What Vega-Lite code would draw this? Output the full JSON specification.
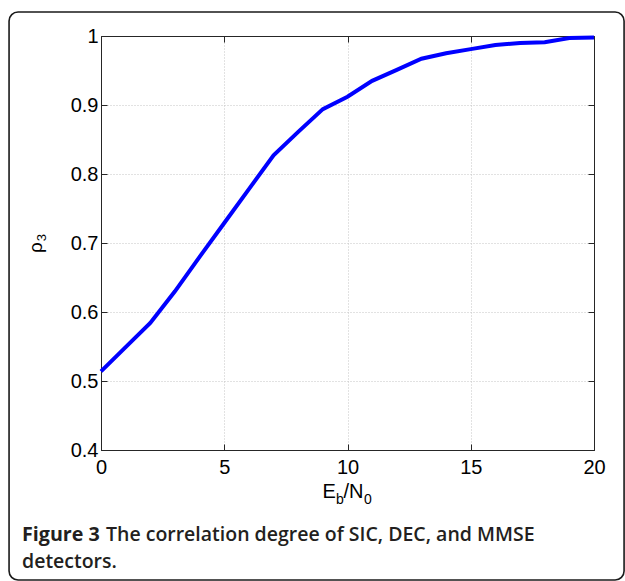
{
  "$schema": "https://vega.github.io/schema/vega-lite/v6.json",
  "width": 493,
  "height": 414,
  "autosize": {"type": "none"},
  "padding": {"left": 101, "top": 36, "right": 31, "bottom": 131},
  "background": "white",
  "config": {
    "view": {"stroke": "#262626", "strokeWidth": 1},
    "axis": {
      "labelFont": "Liberation Sans",
      "labelFontSize": 20,
      "labelColor": "#000000",
      "labelFlush": false,
      "labelOverlap": false,
      "domainColor": "#262626",
      "tickColor": "#262626",
      "tickSize": -6,
      "labelPadding": 9,
      "gridColor": "#c4c4c4",
      "gridDash": [1, 2],
      "gridWidth": 1,
      "titleFont": "Liberation Sans",
      "titleFontWeight": "normal",
      "titleColor": "#000000"
    }
  },
  "datasets": {
    "curve": [
      {"x": 0, "y": 0.514},
      {"x": 1, "y": 0.549},
      {"x": 2, "y": 0.584},
      {"x": 3, "y": 0.630},
      {"x": 4, "y": 0.680},
      {"x": 5, "y": 0.729},
      {"x": 6, "y": 0.778},
      {"x": 7, "y": 0.827},
      {"x": 8, "y": 0.861},
      {"x": 9, "y": 0.894},
      {"x": 10, "y": 0.912},
      {"x": 11, "y": 0.935},
      {"x": 12, "y": 0.951},
      {"x": 13, "y": 0.967},
      {"x": 14, "y": 0.975},
      {"x": 15, "y": 0.981},
      {"x": 16, "y": 0.987},
      {"x": 17, "y": 0.990},
      {"x": 18, "y": 0.991},
      {"x": 19, "y": 0.997},
      {"x": 20, "y": 0.998}
    ]
  },
  "layer": [
    {
      "data": {"name": "curve"},
      "mark": {"type": "line", "color": "#0000ff", "strokeWidth": 4, "clip": false},
      "encoding": {
        "x": {
          "field": "x", "type": "quantitative",
          "scale": {"domain": [0, 20], "nice": false, "zero": false},
          "axis": {"orient": "bottom", "values": [0, 5, 10, 15, 20], "title": null, "grid": true, "labelPadding": 13}
        },
        "y": {
          "field": "y", "type": "quantitative",
          "scale": {"domain": [0.4, 1], "nice": false, "zero": false},
          "axis": {
            "orient": "left",
            "values": [0.4, 0.5, 0.6, 0.7, 0.8, 0.9, 1],
            "labelExpr": "datum.value == 1 ? '1' : format(datum.value, '.1f')",
            "grid": true,
            "title": null
          }
        }
      }
    },
    {
      "data": {"name": "curve"},
      "mark": {"type": "line", "opacity": 0},
      "encoding": {
        "x": {
          "field": "x", "type": "quantitative",
          "scale": {"domain": [0, 20], "nice": false, "zero": false},
          "axis": {"orient": "top", "values": [0, 5, 10, 15, 20], "labels": false, "grid": false, "title": null}
        },
        "y": {
          "field": "y", "type": "quantitative",
          "scale": {"domain": [0.4, 1], "nice": false, "zero": false},
          "axis": {"orient": "right", "values": [0.4, 0.5, 0.6, 0.7, 0.8, 0.9, 1], "labels": false, "grid": false, "title": null}
        }
      }
    },
    {
      "data": {"values": [{}]},
      "mark": {"type": "rect", "fill": null, "fillOpacity": 0, "stroke": "#1a1a1a", "strokeWidth": 1.6, "cornerRadius": 9, "clip": false},
      "encoding": {
        "x": {"datum": -3.73, "type": "quantitative", "axis": null},
        "x2": {"datum": 21.22},
        "y": {"datum": 1.0348, "type": "quantitative", "axis": null},
        "y2": {"datum": 0.2116}
      }
    },
    {
      "data": {"values": [{}]},
      "mark": {"type": "text", "text": "ρ", "font": "Liberation Sans", "fontSize": 19, "align": "left", "baseline": "alphabetic", "angle": 270, "color": "#000000", "clip": false},
      "encoding": {
        "x": {"datum": -2.39, "type": "quantitative", "axis": null},
        "y": {"datum": 0.6855, "type": "quantitative", "axis": null}
      }
    },
    {
      "data": {"values": [{}]},
      "mark": {"type": "text", "text": "3", "font": "Liberation Sans", "fontSize": 13, "align": "left", "baseline": "alphabetic", "angle": 270, "color": "#000000", "clip": false},
      "encoding": {
        "x": {"datum": -2.23, "type": "quantitative", "axis": null},
        "y": {"datum": 0.7025, "type": "quantitative", "axis": null}
      }
    },
    {
      "data": {"values": [{}]},
      "mark": {"type": "text", "text": "E", "font": "Liberation Sans", "fontSize": 20, "align": "left", "baseline": "alphabetic", "dx": -25, "dy": 48, "color": "#000000", "clip": false},
      "encoding": {
        "x": {"datum": 10, "type": "quantitative", "axis": null},
        "y": {"datum": 0.4, "type": "quantitative", "axis": null}
      }
    },
    {
      "data": {"values": [{}]},
      "mark": {"type": "text", "text": "b", "font": "Liberation Sans", "fontSize": 14, "align": "left", "baseline": "alphabetic", "dx": -11.5, "dy": 54, "color": "#000000", "clip": false},
      "encoding": {
        "x": {"datum": 10, "type": "quantitative", "axis": null},
        "y": {"datum": 0.4, "type": "quantitative", "axis": null}
      }
    },
    {
      "data": {"values": [{}]},
      "mark": {"type": "text", "text": "/N", "font": "Liberation Sans", "fontSize": 20, "align": "left", "baseline": "alphabetic", "dx": -4, "dy": 48, "color": "#000000", "clip": false},
      "encoding": {
        "x": {"datum": 10, "type": "quantitative", "axis": null},
        "y": {"datum": 0.4, "type": "quantitative", "axis": null}
      }
    },
    {
      "data": {"values": [{}]},
      "mark": {"type": "text", "text": "0", "font": "Liberation Sans", "fontSize": 14, "align": "left", "baseline": "alphabetic", "dx": 16.5, "dy": 54, "color": "#000000", "clip": false},
      "encoding": {
        "x": {"datum": 10, "type": "quantitative", "axis": null},
        "y": {"datum": 0.4, "type": "quantitative", "axis": null}
      }
    },
    {
      "data": {"values": [{}]},
      "mark": {"type": "text", "text": "Figure 3", "font": "Open Sans", "fontSize": 19.7, "fontWeight": "bold", "align": "left", "baseline": "alphabetic", "dx": -79, "dy": 91, "color": "#231f20", "clip": false},
      "encoding": {
        "x": {"datum": 0, "type": "quantitative", "axis": null},
        "y": {"datum": 0.4, "type": "quantitative", "axis": null}
      }
    },
    {
      "data": {"values": [{}]},
      "mark": {"type": "text", "text": "The correlation degree of SIC, DEC, and MMSE", "font": "Open Sans", "fontSize": 19.5, "fontWeight": 600, "align": "left", "baseline": "alphabetic", "dx": 5, "dy": 91, "color": "#231f20", "clip": false},
      "encoding": {
        "x": {"datum": 0, "type": "quantitative", "axis": null},
        "y": {"datum": 0.4, "type": "quantitative", "axis": null}
      }
    },
    {
      "data": {"values": [{}]},
      "mark": {"type": "text", "text": "detectors.", "font": "Open Sans", "fontSize": 19.5, "fontWeight": 600, "align": "left", "baseline": "alphabetic", "dx": -79, "dy": 118, "color": "#231f20", "clip": false},
      "encoding": {
        "x": {"datum": 0, "type": "quantitative", "axis": null},
        "y": {"datum": 0.4, "type": "quantitative", "axis": null}
      }
    }
  ],
  "resolve": {"axis": {"x": "independent", "y": "independent"}}
}
